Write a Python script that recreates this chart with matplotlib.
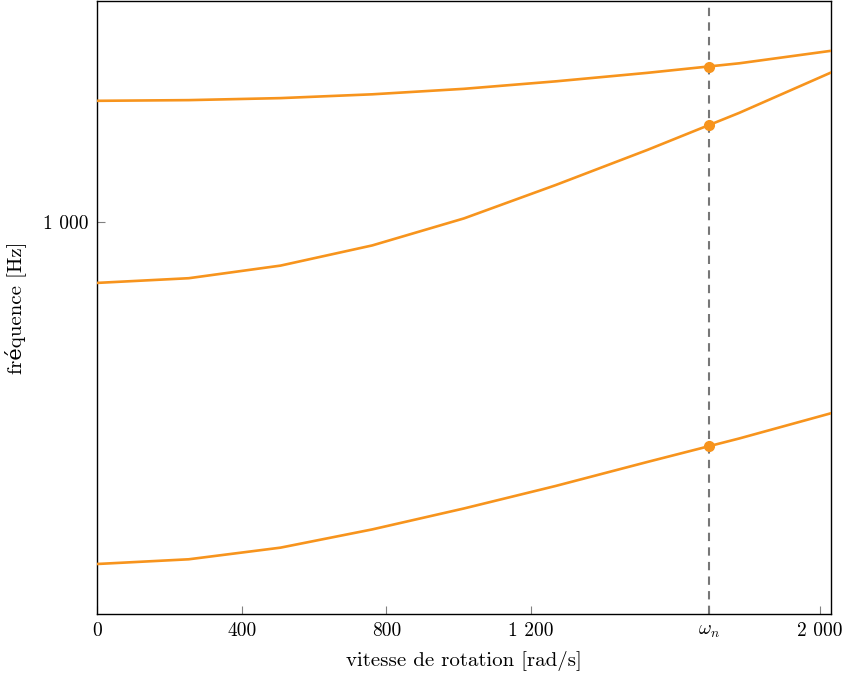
import numpy as np
import matplotlib
matplotlib.use("Agg")
import matplotlib.pyplot as plt

# ---- data ----
SPEED = [0, 253.75, 507.5, 761.25, 1015, 1268.75, 1522.5, 1776.25, 2030]  # rad/s

FREQ_MODE1 = [340.5, 345.6, 358.5, 379.7, 405.6, 435.4, 469.6, 505.6, 547.4]
FREQ_MODE2 = [825.2, 837.5, 871.4, 928.6, 1011.1, 1123.3, 1254.6, 1409.7, 1600.6]
FREQ_MODE3 = [1464.2, 1467.4, 1476.7, 1494.5, 1520.6, 1556.8, 1599.1, 1647.8, 1713.9]

OMEGA_N = 1692
FREQ_AT_OMEGA_N = [493.3, 1356.0, 1629.0]

X_TICKS = [0, 400, 800, 1200, OMEGA_N, 2000]
X_TICK_LABELS = ["0", "400", "800", "1 200", r"$\omega_n$", "2 000"]
Y_TICKS = [1000]
Y_TICK_LABELS = ["1 000"]

ORANGE = "#f7941d"

plt.rcParams["font.family"] = ["cmr10", "DejaVu Serif"]
plt.rcParams["mathtext.fontset"] = "cm"
plt.rcParams["axes.formatter.use_mathtext"] = True

fig = plt.figure(figsize=(8.54, 6.79), dpi=100)
ax = fig.add_axes([97 / 854, 65 / 679, (831 - 97) / 854, (614 - 1) / 679])

for freqs in (FREQ_MODE1, FREQ_MODE2, FREQ_MODE3):
    ax.plot(SPEED, freqs, color=ORANGE, lw=1.9, zorder=3)

ax.axvline(OMEGA_N, color="#777777", lw=1.5, ls=(0, (4, 3)), zorder=2)
ax.plot([OMEGA_N] * 3, FREQ_AT_OMEGA_N, "o", color=ORANGE, ms=7, zorder=4)

ax.set_yscale("log")
ax.set_xlim(0, 2030)
ax.set_ylim(290.9, 2005)

ax.set_xticks(X_TICKS)
ax.set_xticklabels(X_TICK_LABELS)
ax.set_yticks(Y_TICKS)
ax.set_yticklabels(Y_TICK_LABELS)
ax.yaxis.set_minor_locator(matplotlib.ticker.NullLocator())

ax.tick_params(direction="in", length=6, width=0.8, color="#808080",
               labelsize=14, pad=6)

for spine in ax.spines.values():
    spine.set_linewidth(1.0)

ax.set_xlabel("vitesse de rotation [rad/s]", fontsize=15, labelpad=8)
ax.set_ylabel("fréquence [Hz]", fontsize=15, labelpad=12)

fig.savefig("out.png", dpi=100)
